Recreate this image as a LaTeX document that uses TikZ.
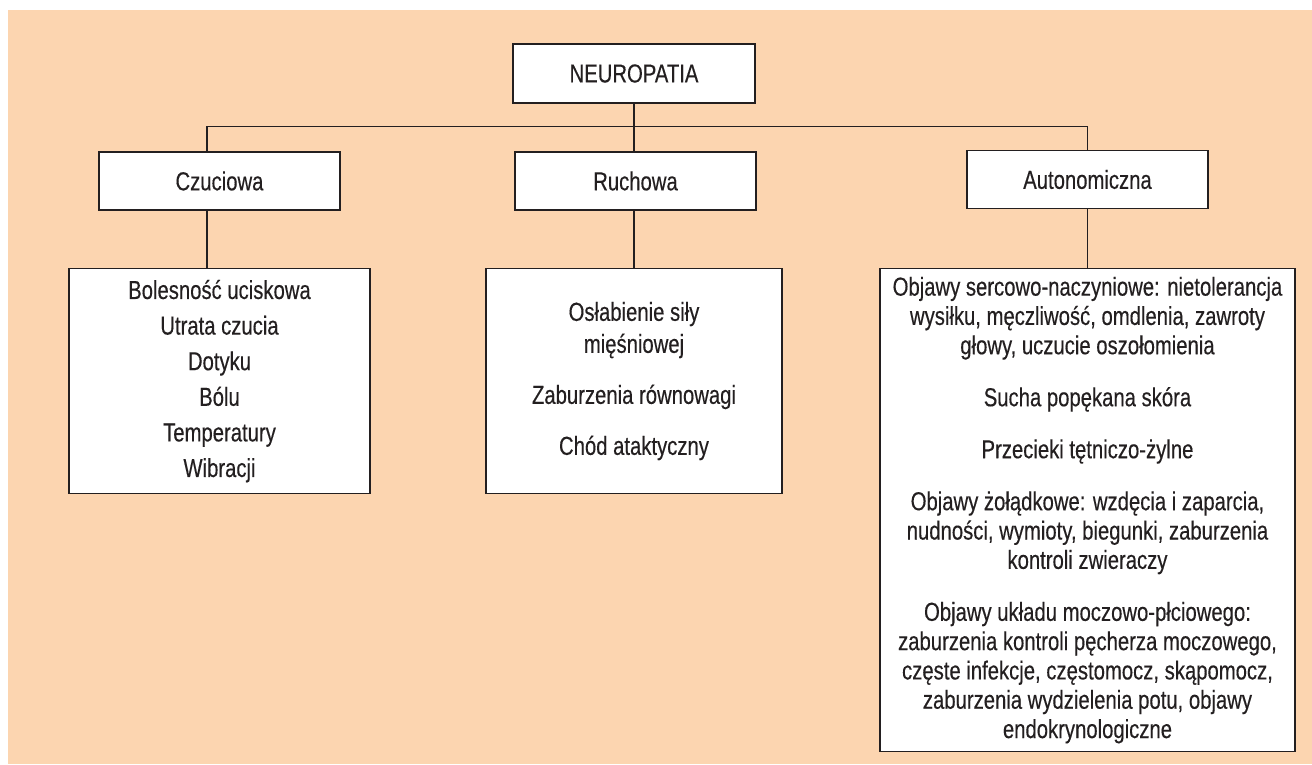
\documentclass[tikz,border=0pt]{standalone}
\usepackage{fontspec}
\setmainfont{Liberation Sans}[FakeStretch=0.78,FakeBold=0.3]
\definecolor{peach}{RGB}{252,213,176}
\definecolor{ink}{RGB}{35,31,32}
\tikzset{
  box/.style={draw=ink, fill=white, line width=1.2pt, text=ink, align=center, inner sep=0pt},
  catbox/.style={box, minimum width=241pt, minimum height=58pt, font=\fontsize{26}{30}\selectfont},
  conn/.style={draw=ink, line width=1.1pt}
}
\begin{document}
\begin{tikzpicture}[x=1pt,y=-1pt]
	\fill[white] (0,0) rectangle (1312,764);
	\fill[peach] (8,10) rectangle (1312,764);
	\node[catbox, minimum width=242pt, minimum height=59pt] (neuro) at (634,73.5) {NEUROPATIA};
	\node[catbox] (czu) at (219.5,181) {Czuciowa};
	\node[catbox] (ruch) at (635.5,181) {Ruchowa};
	\node[catbox] (auto) at (1087.5,179.5) {Autonomiczna};
	% objawy
	\node[box, anchor=north, minimum width=301pt, minimum height=225pt, font=\fontsize{26}{35.6}\selectfont] (czuL) at (219.5,268)
		{Bolesność uciskowa\\Utrata czucia\\Dotyku\\Bólu\\Temperatury\\Wibracji};
	\node[box, anchor=north, minimum width=296pt, minimum height=225pt, font=\fontsize{26}{32}\selectfont] (ruchL) at (634,268)
		{Osłabienie siły\\mięśniowej\\[19pt]Zaburzenia równowagi\\[19pt]Chód ataktyczny};
	\node[box, anchor=north, minimum width=415pt, minimum height=483pt, font=\fontsize{26}{29.3}\selectfont] (autoL) at (1087.5,268)
		{Objawy sercowo-naczyniowe: nietolerancja\\wysiłku, męczliwość, omdlenia, zawroty\\głowy, uczucie oszołomienia\\[22.7pt]
		Sucha popękana skóra\\[22.7pt]
		Przecieki tętniczo-żylne\\[22.7pt]
		Objawy żołądkowe: wzdęcia i zaparcia,\\nudności, wymioty, biegunki, zaburzenia\\kontroli zwieraczy\\[22.7pt]
		Objawy układu moczowo-płciowego:\\zaburzenia kontroli pęcherza moczowego,\\częste infekcje, częstomocz, skąpomocz,\\zaburzenia wydzielenia potu, objawy\\endokrynologiczne};
	% linie
	\draw[conn] (neuro.south) -- (neuro.south |- ruch.north);
	\draw[conn] ([xshift=-12.5pt]czu.north) -- ++(0,-25) -| (auto.north);
	\draw[conn] ([xshift=-12.5pt]czu.south) -- ([xshift=-12.5pt]czuL.north);
	\draw[conn] (ruchL.north |- ruch.south) -- (ruchL.north);
	\draw[conn] (auto.south) -- (autoL.north);
\end{tikzpicture}
\end{document}
